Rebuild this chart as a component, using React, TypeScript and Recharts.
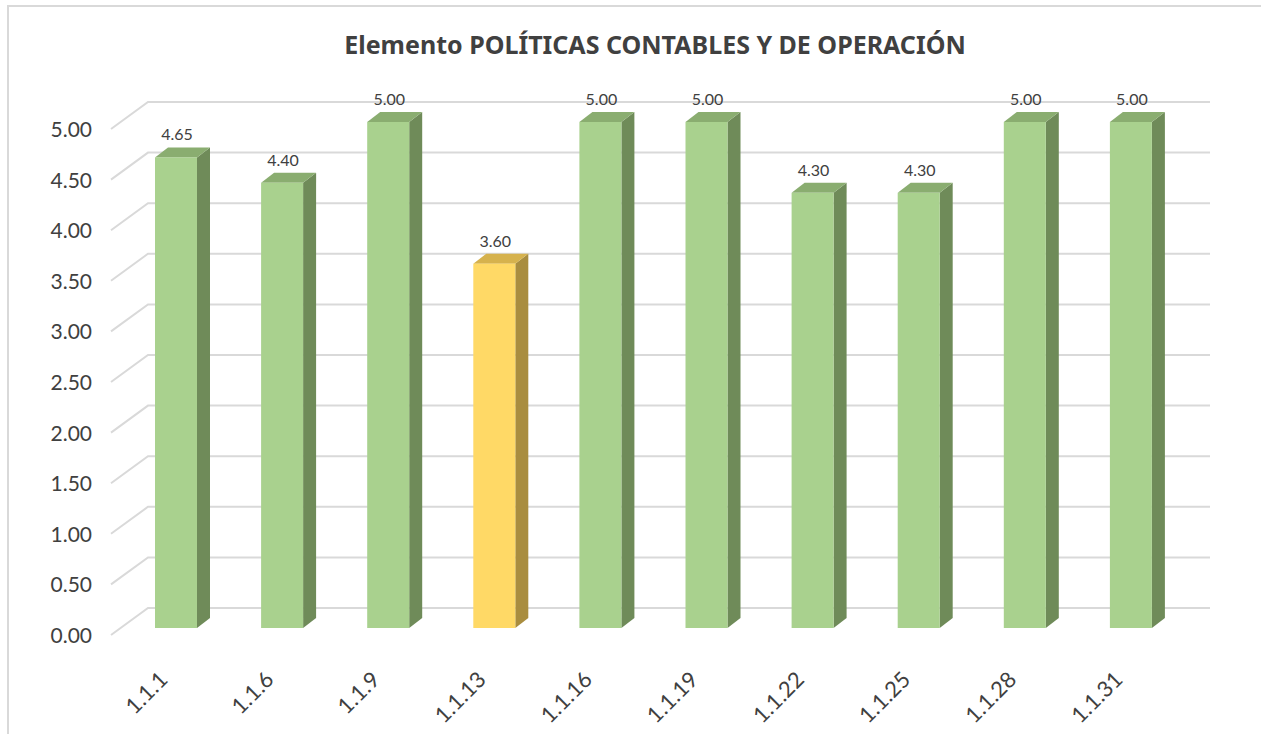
import React from 'react';
import { BarChart, Bar, XAxis, YAxis, CartesianGrid, Cell, LabelList } from 'recharts';

const categories = ['1.1.1', '1.1.6', '1.1.9', '1.1.13', '1.1.16', '1.1.19', '1.1.22', '1.1.25', '1.1.28', '1.1.31'];
const values = [4.65, 4.4, 5.0, 3.6, 5.0, 5.0, 4.3, 4.3, 5.0, 5.0];
const yTicks = [0, 0.5, 1, 1.5, 2, 2.5, 3, 3.5, 4, 4.5, 5];
const TITLE = 'Elemento POLÍTICAS CONTABLES Y DE OPERACIÓN';

const data = categories.map((name, i) => ({ name, value: values[i] }));

const FONT = 'Lato, "Open Sans", sans-serif';
const TITLE_FONT = '"Noto Sans", "Open Sans", sans-serif';
const TEXT = '#404040';
const GRID = '#d9d9d9';
const DX = 13;
const DY = 10;

const GREEN = { front: '#a9d18e', side: '#6f8b59', top: '#8aad70' };
const YELLOW = { front: '#ffd966', side: '#a98d3f', top: '#d6b24d' };

const paletteFor = (v: number) => (v < 4 ? YELLOW : GREEN);

function Bar3D(props: any) {
  const { x, y, width, height, payload } = props;
  const c = paletteFor(payload.value);
  const r = x + width;
  const b = y + height;
  return (
    <g>
      <polygon points={`${r},${y} ${r + DX},${y - DY} ${r + DX},${b - DY} ${r},${b}`} fill={c.side} />
      <polygon points={`${x},${y} ${x + DX},${y - DY} ${r + DX},${y - DY} ${r},${y}`} fill={c.top} />
      <rect x={x} y={y} width={width} height={height} fill={c.front} />
    </g>
  );
}

function GridLine(props: any) {
  const { x1, x2, y1, key } = props;
  const d = `M${x1 - 12},${y1 + 7} L${x1 + 25},${y1 - 20} L${x2 + 26},${y1 - 20}`;
  return <path key={key} d={d} fill="none" stroke={GRID} strokeWidth={2} />;
}

function YTick(props: any) {
  const { y, payload } = props;
  return (
    <text x={83} y={y + 15} textAnchor="end" fill={TEXT} fontSize={21} fontFamily={FONT}>
      {Number(payload.value).toFixed(2)}
    </text>
  );
}

function XTick(props: any) {
  const { x, payload } = props;
  const ax = x - 7;
  const ay = 674;
  return (
    <text
      x={ax}
      y={ay}
      textAnchor="end"
      fill={TEXT}
      fontSize={22}
      fontFamily={FONT}
      transform={`rotate(-45, ${ax}, ${ay})`}
    >
      {payload.value}
    </text>
  );
}

function ValueLabel(props: any) {
  const { x, y, width, value } = props;
  return (
    <text x={x + width / 2 + 1} y={y - 17} textAnchor="middle" fill={TEXT} fontSize={16} fontFamily={FONT}>
      {Number(value).toFixed(2)}
    </text>
  );
}

export default function App() {
  return (
    <div
      style={{
        position: 'absolute',
        left: 7,
        top: 5,
        width: 1252,
        height: 727,
        borderTop: `2px solid ${GRID}`,
        borderLeft: `2px solid ${GRID}`,
        background: '#fff',
        overflow: 'hidden',
      }}
    >
      <div
        style={{
          position: 'absolute',
          top: 22,
          left: 0,
          right: 0,
          paddingLeft: 40,
          textAlign: 'center',
          fontFamily: TITLE_FONT,
          fontWeight: 'bold',
          fontSize: 25,
          lineHeight: '30px',
          color: TEXT,
        }}
      >
        {TITLE}
      </div>
      <BarChart
        width={1252}
        height={727}
        data={data}
        margin={{ top: 115, right: 77, bottom: 46, left: 54 }}
      >
        <CartesianGrid vertical={false} horizontal={GridLine} />
        <XAxis
          dataKey="name"
          height={60}
          axisLine={false}
          tickLine={false}
          interval={0}
          tick={XTick}
        />
        <YAxis
          width={60}
          domain={[0, 5]}
          ticks={yTicks}
          axisLine={false}
          tickLine={false}
          tick={YTick}
        />
        <Bar dataKey="value" barSize={42} shape={Bar3D} isAnimationActive={false}>
          {data.map((d) => (
            <Cell key={d.name} fill={paletteFor(d.value).front} />
          ))}
          <LabelList dataKey="value" content={ValueLabel} />
        </Bar>
      </BarChart>
    </div>
  );
}
